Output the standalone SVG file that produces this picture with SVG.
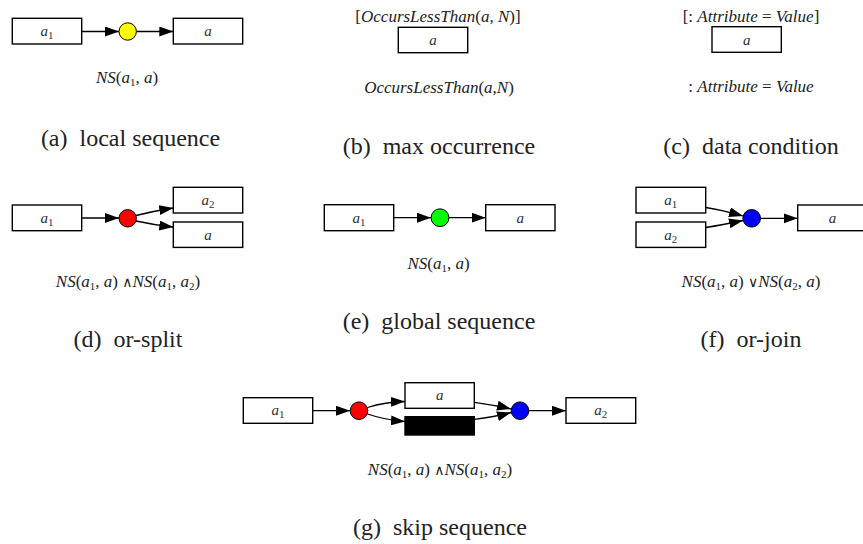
<svg xmlns="http://www.w3.org/2000/svg" width="863" height="544" viewBox="0 0 863 544">
<defs>
<marker id="ah" markerUnits="userSpaceOnUse" markerWidth="15" markerHeight="11" refX="14" refY="5" orient="auto">
<path d="M0,0 L14,5 L0,10 z" fill="#000"/>
</marker>
</defs>

<g id="connectors" fill="none" stroke="#000" stroke-width="1.3">
<line x1="82" y1="31.5" x2="119" y2="31.5" marker-end="url(#ah)"/>
<line x1="136.5" y1="31.5" x2="173.3" y2="31.5" marker-end="url(#ah)"/>
<line x1="82" y1="218" x2="119" y2="218" marker-end="url(#ah)"/>
<path d="M136,215.5 Q154,211 173.3,208" marker-end="url(#ah)"/>
<path d="M136,221 Q154,225 173.3,227" marker-end="url(#ah)"/>
<line x1="393.7" y1="217.7" x2="431" y2="217.7" marker-end="url(#ah)"/>
<line x1="449" y1="217.7" x2="485.7" y2="217.7" marker-end="url(#ah)"/>
<path d="M705.7,207.5 Q722,210 743,216" marker-end="url(#ah)"/>
<path d="M705.7,227.5 Q722,225 743,220.5" marker-end="url(#ah)"/>
<line x1="760.5" y1="218.3" x2="797.7" y2="218.3" marker-end="url(#ah)"/>
<line x1="312.7" y1="410.7" x2="350" y2="410.7" marker-end="url(#ah)"/>
<path d="M367.5,407.5 Q385,402 405,401.5" marker-end="url(#ah)"/>
<path d="M367.5,414 Q385,420 405,421.5" marker-end="url(#ah)"/>
<path d="M474.3,402.3 Q495,405 511,409" marker-end="url(#ah)"/>
<path d="M474.3,419.3 Q495,417 511,412.5" marker-end="url(#ah)"/>
<line x1="529" y1="410.7" x2="566" y2="410.7" marker-end="url(#ah)"/>
</g>

<g id="a_a1"><rect x="12.3" y="18.3" width="69.4" height="25.7" fill="#fff" stroke="#000" stroke-width="1.4"/><text font-family="Liberation Serif" font-style="italic" font-size="15" fill="#333" text-anchor="middle" x="47" y="36">a<tspan font-style="normal" font-size="11" dy="3">1</tspan></text></g>
<g id="a_gate"><circle cx="127.7" cy="31.5" r="8.7" fill="#ff0" stroke="#000" stroke-width="1"/></g>
<g id="a_a"><rect x="173.3" y="18.3" width="69.4" height="25.7" fill="#fff" stroke="#000" stroke-width="1.4"/><text font-family="Liberation Serif" font-style="italic" font-size="15" fill="#333" text-anchor="middle" x="208" y="36">a</text></g>
<text font-family="Liberation Serif" font-style="italic" font-size="17" fill="#222" text-anchor="middle" x="127" y="83">NS<tspan font-style="normal">(</tspan>a<tspan font-style="normal" font-size="11" dy="3">1</tspan><tspan font-style="normal" dy="-3">, </tspan>a<tspan font-style="normal">)</tspan></text>
<text font-family="Liberation Serif" font-size="24" fill="#222" text-anchor="middle" x="130.5" y="146">(a)&#8194;local sequence</text>

<g id="b_a"><rect x="398.3" y="27.3" width="69.4" height="25.4" fill="#fff" stroke="#000" stroke-width="1.4"/><text font-family="Liberation Serif" font-style="italic" font-size="15" fill="#333" text-anchor="middle" x="433" y="45">a</text></g>
<text font-family="Liberation Serif" font-style="italic" font-size="17" fill="#222" text-anchor="middle" x="438" y="21.5"><tspan font-style="normal">[</tspan>OccursLessThan<tspan font-style="normal">(</tspan>a<tspan font-style="normal">, </tspan>N<tspan font-style="normal">)]</tspan></text>
<text font-family="Liberation Serif" font-style="italic" font-size="17" fill="#222" text-anchor="middle" x="439" y="93">OccursLessThan<tspan font-style="normal">(</tspan>a<tspan font-style="normal">,</tspan>N<tspan font-style="normal">)</tspan></text>
<text font-family="Liberation Serif" font-size="24" fill="#222" text-anchor="middle" x="439" y="154">(b)&#8194;max occurrence</text>

<g id="c_a"><rect x="712" y="26.7" width="69.3" height="25.6" fill="#fff" stroke="#000" stroke-width="1.4"/><text font-family="Liberation Serif" font-style="italic" font-size="15" fill="#333" text-anchor="middle" x="746.7" y="44.5">a</text></g>
<text font-family="Liberation Serif" font-style="italic" font-size="17" fill="#222" text-anchor="middle" x="751" y="21.5"><tspan font-style="normal">[: </tspan>Attribute <tspan font-style="normal">= </tspan>Value<tspan font-style="normal">]</tspan></text>
<text font-family="Liberation Serif" font-style="italic" font-size="17" fill="#222" text-anchor="middle" x="751" y="91.5"><tspan font-style="normal">: </tspan>Attribute <tspan font-style="normal">= </tspan>Value</text>
<text font-family="Liberation Serif" font-size="24" fill="#222" text-anchor="middle" x="751" y="154">(c)&#8194;data condition</text>

<g id="d_a1"><rect x="12.3" y="205" width="69.4" height="25.7" fill="#fff" stroke="#000" stroke-width="1.4"/><text font-family="Liberation Serif" font-style="italic" font-size="15" fill="#333" text-anchor="middle" x="47" y="222.5">a<tspan font-style="normal" font-size="11" dy="3">1</tspan></text></g>
<g id="d_gate"><circle cx="127.7" cy="218.3" r="8.7" fill="#f00" stroke="#000" stroke-width="1"/></g>
<g id="d_a2"><rect x="173.3" y="187.3" width="69.4" height="25.7" fill="#fff" stroke="#000" stroke-width="1.4"/><text font-family="Liberation Serif" font-style="italic" font-size="15" fill="#333" text-anchor="middle" x="208" y="204.5">a<tspan font-style="normal" font-size="11" dy="3">2</tspan></text></g>
<g id="d_a"><rect x="173.3" y="222" width="69.4" height="25.4" fill="#fff" stroke="#000" stroke-width="1.4"/><text font-family="Liberation Serif" font-style="italic" font-size="15" fill="#333" text-anchor="middle" x="208" y="239.5">a</text></g>
<text font-family="Liberation Serif" font-style="italic" font-size="17" fill="#222" text-anchor="middle" x="128" y="287">NS<tspan font-style="normal">(</tspan>a<tspan font-style="normal" font-size="11" dy="3">1</tspan><tspan font-style="normal" dy="-3">, </tspan>a<tspan font-style="normal">) </tspan><tspan font-family="DejaVu Serif" font-style="normal" font-size="14">∧</tspan>NS<tspan font-style="normal">(</tspan>a<tspan font-style="normal" font-size="11" dy="3">1</tspan><tspan font-style="normal" dy="-3">, </tspan>a<tspan font-style="normal" font-size="11" dy="3">2</tspan><tspan font-style="normal" dy="-3">)</tspan></text>
<text font-family="Liberation Serif" font-size="24" fill="#222" text-anchor="middle" x="128" y="347">(d)&#8194;or-split</text>

<g id="e_a1"><rect x="324.3" y="204.7" width="69.4" height="26" fill="#fff" stroke="#000" stroke-width="1.4"/><text font-family="Liberation Serif" font-style="italic" font-size="15" fill="#333" text-anchor="middle" x="359" y="222.5">a<tspan font-style="normal" font-size="11" dy="3">1</tspan></text></g>
<g id="e_gate"><circle cx="440" cy="217.7" r="8.9" fill="#0f0" stroke="#000" stroke-width="1"/></g>
<g id="e_a"><rect x="485.7" y="204.7" width="69.3" height="26" fill="#fff" stroke="#000" stroke-width="1.4"/><text font-family="Liberation Serif" font-style="italic" font-size="15" fill="#333" text-anchor="middle" x="520.3" y="222.5">a</text></g>
<text font-family="Liberation Serif" font-style="italic" font-size="17" fill="#222" text-anchor="middle" x="438.5" y="269">NS<tspan font-style="normal">(</tspan>a<tspan font-style="normal" font-size="11" dy="3">1</tspan><tspan font-style="normal" dy="-3">, </tspan>a<tspan font-style="normal">)</tspan></text>
<text font-family="Liberation Serif" font-size="24" fill="#222" text-anchor="middle" x="439" y="329">(e)&#8194;global sequence</text>

<g id="f_a1"><rect x="636" y="187.3" width="69.7" height="25.7" fill="#fff" stroke="#000" stroke-width="1.4"/><text font-family="Liberation Serif" font-style="italic" font-size="15" fill="#333" text-anchor="middle" x="670.8" y="204.5">a<tspan font-style="normal" font-size="11" dy="3">1</tspan></text></g>
<g id="f_a2"><rect x="636" y="222" width="69.7" height="25.4" fill="#fff" stroke="#000" stroke-width="1.4"/><text font-family="Liberation Serif" font-style="italic" font-size="15" fill="#333" text-anchor="middle" x="670.8" y="239.5">a<tspan font-style="normal" font-size="11" dy="3">2</tspan></text></g>
<g id="f_gate"><circle cx="751.7" cy="218.3" r="8.8" fill="#00f" stroke="#000" stroke-width="1"/></g>
<g id="f_a"><rect x="797.7" y="205" width="69.5" height="25.7" fill="#fff" stroke="#000" stroke-width="1.4"/><text font-family="Liberation Serif" font-style="italic" font-size="15" fill="#333" text-anchor="middle" x="832.5" y="222.5">a</text></g>
<text font-family="Liberation Serif" font-style="italic" font-size="17" fill="#222" text-anchor="middle" x="751" y="287">NS<tspan font-style="normal">(</tspan>a<tspan font-style="normal" font-size="11" dy="3">1</tspan><tspan font-style="normal" dy="-3">, </tspan>a<tspan font-style="normal">) </tspan><tspan font-family="DejaVu Serif" font-style="normal" font-size="14">∨</tspan>NS<tspan font-style="normal">(</tspan>a<tspan font-style="normal" font-size="11" dy="3">2</tspan><tspan font-style="normal" dy="-3">, </tspan>a<tspan font-style="normal">)</tspan></text>
<text font-family="Liberation Serif" font-size="24" fill="#222" text-anchor="middle" x="751" y="347">(f)&#8194;or-join</text>

<g id="g_a1"><rect x="243.3" y="397.7" width="69.4" height="25.6" fill="#fff" stroke="#000" stroke-width="1.4"/><text font-family="Liberation Serif" font-style="italic" font-size="15" fill="#333" text-anchor="middle" x="278" y="415">a<tspan font-style="normal" font-size="11" dy="3">1</tspan></text></g>
<g id="g_split"><circle cx="359" cy="410.7" r="8.8" fill="#f00" stroke="#000" stroke-width="1"/></g>
<g id="g_a"><rect x="405" y="382.7" width="69.3" height="25.6" fill="#fff" stroke="#000" stroke-width="1.4"/><text font-family="Liberation Serif" font-style="italic" font-size="15" fill="#333" text-anchor="middle" x="439.7" y="400">a</text></g>
<g id="g_skip"><rect x="405" y="416.7" width="69.3" height="18.3" fill="#000" stroke="#000" stroke-width="1.4"/></g>
<g id="g_join"><circle cx="520" cy="410.7" r="8.8" fill="#00f" stroke="#000" stroke-width="1"/></g>
<g id="g_a2"><rect x="566" y="397.7" width="69.7" height="25.6" fill="#fff" stroke="#000" stroke-width="1.4"/><text font-family="Liberation Serif" font-style="italic" font-size="15" fill="#333" text-anchor="middle" x="600.8" y="415">a<tspan font-style="normal" font-size="11" dy="3">2</tspan></text></g>
<text font-family="Liberation Serif" font-style="italic" font-size="17" fill="#222" text-anchor="middle" x="440" y="475">NS<tspan font-style="normal">(</tspan>a<tspan font-style="normal" font-size="11" dy="3">1</tspan><tspan font-style="normal" dy="-3">, </tspan>a<tspan font-style="normal">) </tspan><tspan font-family="DejaVu Serif" font-style="normal" font-size="14">∧</tspan>NS<tspan font-style="normal">(</tspan>a<tspan font-style="normal" font-size="11" dy="3">1</tspan><tspan font-style="normal" dy="-3">, </tspan>a<tspan font-style="normal" font-size="11" dy="3">2</tspan><tspan font-style="normal" dy="-3">)</tspan></text>
<text font-family="Liberation Serif" font-size="24" fill="#222" text-anchor="middle" x="440" y="535">(g)&#8194;skip sequence</text>
</svg>
